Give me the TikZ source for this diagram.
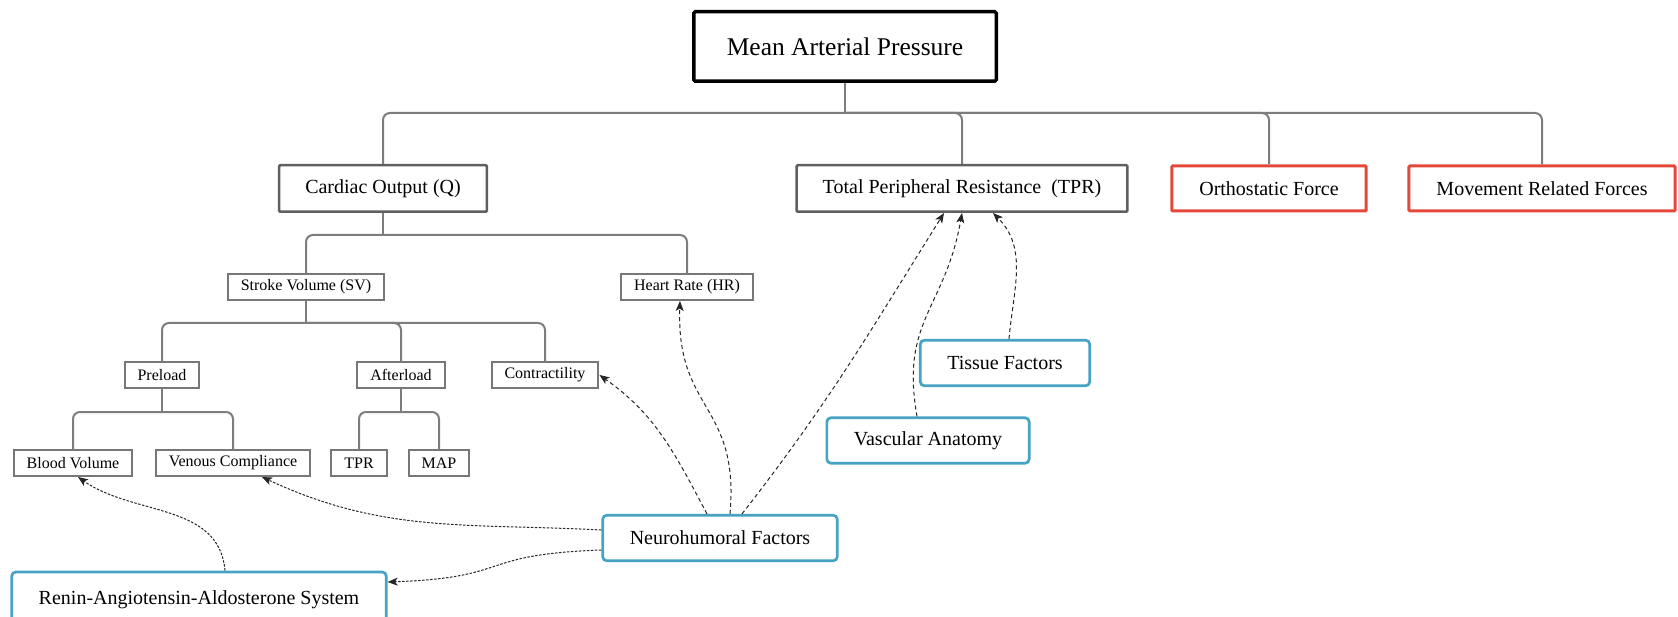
\documentclass[tikz,border=0pt]{standalone}
\usepackage{fontspec}
\setmainfont{Liberation Serif}
\usepackage{tikz}
\usetikzlibrary{arrows.meta}
\definecolor{treegray}{HTML}{7D7D7D}
\definecolor{boxgray}{HTML}{5F5F5F}
\definecolor{factorred}{HTML}{E5483A}
\definecolor{factorblue}{HTML}{47A3C4}

\begin{document}
\begin{tikzpicture}[x=1pt,y=1pt,
  mainbox/.style={draw=black,line width=3.5pt,fill=white,rounded corners=1.5pt,inner xsep=33pt,minimum height=69.5pt,font=\fontsize{25.5}{30}\selectfont},
  midbox/.style={draw=boxgray,line width=2.5pt,fill=white,rounded corners=1pt,inner xsep=26pt,minimum height=46.5pt,font=\fontsize{20}{24}\selectfont},
  forcebox/.style={midbox,draw=factorred,line width=3pt,inner xsep=27.5pt,minimum height=45pt},
  smallbox/.style={draw=boxgray!85,line width=2pt,fill=white,inner xsep=13pt,minimum height=26pt,font=\fontsize{16}{19}\selectfont},
  factor/.style={draw=factorblue,line width=2.7pt,fill=white,rounded corners=4pt,inner xsep=27pt,minimum height=45.5pt,font=\fontsize{20}{24}\selectfont},
  tree/.style={draw=treegray,line width=2pt},
  link/.style={draw=black!85,line width=1pt,dash pattern=on 4pt off 3pt,-{Stealth[length=10pt,width=8pt,inset=2.5pt]}}]
 \useasboundingbox (0,0) rectangle (1678,-617);
 \node (map) [mainbox] at (845,-46.5) {Mean Arterial Pressure};
 \node (co) [midbox] at (383,-188.5) {Cardiac Output (Q)};
 \node (tpr) [midbox] at (962,-188.5) {Total Peripheral Resistance\ \ (TPR)};
 \node (of) [forcebox] at (1269,-188.5) {Orthostatic Force};
 \node (mrf) [forcebox] at (1542,-188.5) {Movement Related Forces};
 \node (sv) [smallbox] at (306,-287) {Stroke Volume (SV)};
 \node (hr) [smallbox] at (687,-287) {Heart Rate (HR)};
 \node (pre) [smallbox] at (162,-375) {Preload};
 \node (aft) [smallbox] at (401,-375) {Afterload};
 \node (con) [smallbox] at (545,-375) {Contractility};
 \node (bv) [smallbox] at (73,-463) {Blood Volume};
 \node (vc) [smallbox] at (233,-463) {Venous Compliance};
 \node (tprs) [smallbox] at (359,-463) {TPR};
 \node (maps) [smallbox] at (439,-463) {MAP};
 \node (tf) [factor] at (1005,-363) {Tissue Factors};
 \node (va) [factor] at (928,-440.5) {Vascular Anatomy};
 \node (nf) [factor] at (720,-538) {Neurohumoral Factors};
 \node (raas) [factor,minimum height=56pt] at (199,-600) {Renin-Angiotensin-Aldosterone System};
 \foreach \up/\gap in {map/30, co/22, sv/22, pre/23, aft/23}
 \draw[tree] (\up.south) -- ++(0,-\gap) coordinate (\up-bus);
 \foreach \up/\down in {map/co, map/tpr, map/of, map/mrf, co/sv, co/hr, sv/pre, sv/aft, sv/con, pre/bv, pre/vc, aft/tprs, aft/maps}
 \draw[tree,rounded corners=7pt] (\up-bus) -| (\down.north);
 \draw[link] ([xshift=-13pt]nf.north) to[out=118,in=-35] (con.east);
 \draw[link] ([xshift=10pt]nf.north) to[out=85,in=-92,looseness=1.3] ([xshift=-7pt]hr.south);
 \draw[link] ([xshift=22pt]nf.north) to[out=52,in=-122] ([xshift=-18pt]tpr.south);
 \draw[link] ([xshift=-11pt]va.north) to[out=100,in=-100,looseness=1.2] (tpr.south);
 \draw[link] ([xshift=4pt]tf.north) to[out=85,in=-45] ([xshift=31pt]tpr.south);
 \draw[link,dash pattern=on 2.5pt off 1.5pt] ([yshift=8pt]nf.west) to[out=177,in=-25] ([xshift=29pt]vc.south);
 \draw[link,dash pattern=on 2.5pt off 1.5pt] ([yshift=-12pt]nf.west) to[out=182,in=2,looseness=1.5] ([yshift=18pt]raas.east);
 \draw[link,dash pattern=on 2.5pt off 1.5pt] ([xshift=26pt]raas.north) to[out=95,in=-35] ([xshift=5pt]bv.south);
\end{tikzpicture}
\end{document}
